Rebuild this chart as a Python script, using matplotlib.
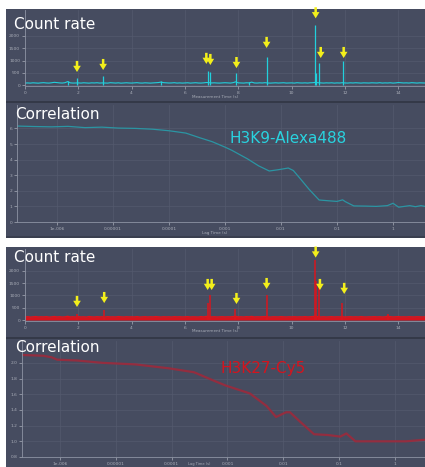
import numpy as np
import matplotlib.pyplot as plt
from matplotlib.patches import Rectangle
from matplotlib.ticker import NullLocator

# ---- data ----
time_s = np.arange(0, 15.01, 0.1)

# count rate trace, top (cyan) - baseline every 0.1 s
cyan_base = [80, 85, 78, 90, 82, 76, 88, 95, 84, 79,
             92, 110, 98, 86, 81, 95, 140, 88, 80, 84,
             86, 79, 91, 83, 77, 88, 84, 92, 80, 86,
             82, 78, 94, 85, 80, 89, 76, 84, 91, 83,
             80, 87, 95, 82, 79, 90, 84, 78, 86, 92,
             100, 120, 96, 88, 82, 85, 94, 80, 86, 79,
             84, 91, 78, 86, 93, 82, 80, 88, 102, 96,
             84, 90, 82, 79, 87, 93, 85, 80, 95, 130,
             88, 82, 79, 91, 86, 118, 84, 80, 89, 83,
             95, 82, 78, 86, 90, 81, 85, 92, 80, 84,
             87, 79, 93, 85, 82, 88, 80, 91, 95, 110,
             92, 85, 80, 88, 83, 90, 78, 86, 82, 94,
             84, 80, 89, 83, 92, 86, 79, 88, 84, 81,
             90, 85, 82, 94, 80, 87, 83, 91, 79, 86,
             100, 92, 84, 88, 81, 95, 86, 80, 89, 84,
             82]
cyan_spike_t = [1.6, 1.95, 2.93, 5.1, 6.85, 6.95, 7.9, 8.4, 9.07, 10.87, 10.93, 11.02, 11.92]
cyan_spike_v = [150, 290, 370, 170, 560, 540, 480, 130, 1150, 2450, 500, 880, 980]
cyan_arrow_t = [1.95, 2.93, 6.80, 6.95, 7.93, 9.06, 10.90, 11.09, 11.95]
cyan_arrow_v = [530, 610, 860, 815, 690, 1510, 2720, 1100, 1100]

# count rate trace, bottom (red)
red_base = [120, 135, 118, 128, 140, 122, 131, 126, 138, 119,
            127, 142, 124, 133, 120, 129, 150, 125, 132, 121,
            136, 124, 130, 118, 141, 127, 122, 134, 126, 131,
            119, 137, 125, 129, 122, 140, 128, 121, 133, 126,
            130, 124, 138, 120, 127, 135, 123, 131, 126, 139,
            128, 122, 134, 125, 130, 121, 137, 126, 132, 124,
            129, 136, 123, 131, 127, 120, 138, 125, 145, 140,
            126, 133, 121, 129, 135, 124, 130, 127, 138, 150,
            125, 131, 122, 136, 128, 145, 124, 130, 127, 133,
            140, 126, 121, 132, 128, 124, 137, 129, 122, 131,
            127, 135, 123, 130, 126, 138, 124, 131, 140, 155,
            130, 125, 133, 121, 128, 136, 124, 130, 127, 135,
            122, 129, 134, 126, 131, 124, 138, 127, 123, 130,
            128, 136, 125, 132, 121, 129, 150, 135, 124, 131,
            138, 126, 130, 123, 134, 127, 125, 132, 128, 124,
            130]
red_spike_t = [1.95, 2.95, 6.85, 6.92, 7.88, 9.07, 10.86, 10.92, 11.02, 11.9, 13.6]
red_spike_v = [230, 420, 700, 1000, 430, 1030, 2450, 1600, 1340, 690, 250]
red_arrow_t = [1.95, 2.97, 6.85, 7.00, 7.93, 9.06, 10.90, 11.06, 11.97]
red_arrow_v = [530, 690, 1220, 1220, 650, 1260, 2540, 1220, 1060]

# correlation curves (log10 lag time, G)
cyan_corr_logt = [-6.71, -6.4, -6.1, -5.8, -5.5, -5.2, -4.9, -4.6, -4.3, -4.0, -3.7, -3.45,
                  -3.23, -3.0, -2.88, -2.6, -2.4, -2.21, -2.05, -1.87, -1.78, -1.65, -1.5,
                  -1.32, -1.15, -1.0, -0.9, -0.85, -0.7, -0.5, -0.3, -0.1, 0.0, 0.1, 0.2,
                  0.3, 0.4, 0.5, 0.57]
cyan_corr_g = [6.15, 6.12, 6.10, 6.13, 6.05, 6.08, 6.02, 6.0, 5.95, 5.85, 5.7, 5.4,
               5.15, 4.8, 4.6, 4.05, 3.6, 3.27, 3.35, 3.46, 3.3, 2.75, 2.1,
               1.41, 1.36, 1.32, 1.42, 1.3, 1.03, 1.02, 1.0, 1.05, 1.2, 0.95, 1.0,
               1.05, 0.98, 1.05, 1.0]

red_corr_logt = [-6.68, -6.3, -6.15, -6.05, -5.7, -5.25, -4.65, -4.05, -3.6, -3.27, -3.03,
                 -2.6, -2.3, -2.13, -1.95, -1.88, -1.7, -1.45, -1.2, -0.98, -0.87, -0.71,
                 -0.3, 0.2, 0.54]
red_corr_g = [2.10, 2.09, 2.07, 2.04, 2.03, 2.0, 1.98, 1.93, 1.88, 1.78, 1.71,
              1.61, 1.45, 1.31, 1.37, 1.37, 1.25, 1.09, 1.08, 1.06, 1.1, 1.0,
              1.0, 1.0, 1.02]

log_ticks = [1e-6, 1e-5, 1e-4, 1e-3, 1e-2, 1e-1, 1]
log_labels = ['1e-006', '0.00001', '0.0001', '0.001', '0.01', '0.1', '1']

# ---- figure ----
W, H = 425, 467
BG = '#464c60'
fig = plt.figure(figsize=(4.25, 4.67), dpi=100)
fig.patch.set_facecolor('white')


def rect(x0, y0, x1, y1):
    return [x0 / W, 1 - y1 / H, (x1 - x0) / W, (y1 - y0) / H]


def panel(x0, y0, x1, y1, color=BG):
    fig.add_artist(Rectangle((x0 / W, 1 - y1 / H), (x1 - x0) / W, (y1 - y0) / H,
                             transform=fig.transFigure, color=color, zorder=-5, lw=0))


def style(ax):
    ax.set_facecolor('none')
    for s in ['top', 'right']:
        ax.spines[s].set_visible(False)
    for s in ['left', 'bottom']:
        ax.spines[s].set_color('#8d93a3')
        ax.spines[s].set_linewidth(0.6)
    ax.tick_params(colors='#a9adb8', labelsize=3.2, length=2, width=0.5, pad=1.5)
    ax.grid(True, color='#545a6e', lw=0.5)
    ax.set_axisbelow(True)


def title(x, y, s):
    fig.text(x / W, 1 - y / H, s, fontsize=11, color='white', va='baseline')


def arrows(ax, ts, vs):
    for t, v in zip(ts, vs):
        a = ax.annotate('', xy=(t, v), xytext=(0, 8), textcoords='offset points',
                        annotation_clip=False,
                        arrowprops=dict(arrowstyle='simple,head_length=0.45,head_width=0.55,tail_width=0.18',
                                        fc='#f3ef1b', ec='none', shrinkA=0, shrinkB=0))
        a.arrow_patch.set_clip_on(False)


# panel backgrounds
panel(6, 9, 425, 101)
panel(6, 101, 425, 103, '#343948')
panel(6, 103, 425, 238)
panel(6, 236, 425, 238, '#3a3f4f')
panel(6, 247, 425, 337)
panel(6, 337, 425, 339, '#343948')
panel(6, 339, 425, 467)

# count rate, top
ax1 = fig.add_axes(rect(25, 10, 425, 86))
style(ax1)
ax1.plot(time_s, cyan_base, color='#22d0dc', lw=0.8)
ax1.vlines(cyan_spike_t, 0, cyan_spike_v, color='#22d0dc', lw=0.9)
ax1.set_xlim(0, 15)
ax1.set_ylim(-40, 3060)
ax1.set_xticks(range(0, 15, 2))
ax1.set_yticks(range(0, 2001, 500))
arrows(ax1, cyan_arrow_t, cyan_arrow_v)
fig.text(215 / W, 1 - 97 / H, 'Measurement Time (s)', fontsize=3, color='#a9adb8', ha='center', va='center')

# correlation, top
ax2 = fig.add_axes(rect(17, 105, 425, 222))
style(ax2)
ax2.plot(10 ** np.array(cyan_corr_logt), cyan_corr_g, color='#2b95a3', lw=0.9)
ax2.set_xscale('log')
ax2.set_xlim(10 ** -6.714, 10 ** 0.571)
ax2.set_ylim(0, 7.5)
ax2.set_xticks(log_ticks)
ax2.set_xticklabels(log_labels)
ax2.xaxis.set_minor_locator(NullLocator())
ax2.set_yticks(range(0, 7))
fig.text(215 / W, 1 - 233 / H, 'Lag Time (s)', fontsize=3, color='#a9adb8', ha='center', va='center')

# count rate, bottom
ax3 = fig.add_axes(rect(25, 249, 425, 321))
style(ax3)
ax3.fill_between(time_s, 0, red_base, color='#d8121c', lw=0)
ax3.plot(time_s, red_base, color='#e0141c', lw=1.0)
ax3.vlines(red_spike_t, 0, red_spike_v, color='#d8161e', lw=1.1)
ax3.set_xlim(0, 15)
ax3.set_ylim(-40, 2890)
ax3.set_xticks(range(0, 15, 2))
ax3.set_yticks(range(0, 2001, 500))
arrows(ax3, red_arrow_t, red_arrow_v)
fig.text(215 / W, 1 - 331 / H, 'Measurement Time (s)', fontsize=3, color='#a9adb8', ha='center', va='center')

# correlation, bottom
ax4 = fig.add_axes(rect(22, 341, 425, 457))
style(ax4)
ax4.plot(10 ** np.array(red_corr_logt), red_corr_g, color='#9c2a3c', lw=1.6, alpha=0.9)
ax4.set_xscale('log')
ax4.set_xlim(10 ** -6.681, 10 ** 0.538)
ax4.set_ylim(0.8, 2.278)
ax4.set_xticks(log_ticks)
ax4.set_xticklabels(log_labels)
ax4.xaxis.set_minor_locator(NullLocator())
ax4.set_yticks(np.arange(0.8, 2.01, 0.2))
ax4.set_yticklabels(['0.8', '1.0', '1.2', '1.4', '1.6', '1.8', '2.0'])
fig.text(199 / W, 1 - 464.5 / H, 'Lag Time (s)', fontsize=2.6, color='#a9adb8', ha='center', va='center')

# titles and labels
title(14, 29, 'Count rate')
title(15, 119, 'Correlation')
title(14, 262, 'Count rate')
title(15, 352, 'Correlation')
fig.text(230 / W, 1 - 143 / H, 'H3K9-Alexa488', fontsize=11, color='#29d3df', va='baseline')
fig.text(220 / W, 1 - 373 / H, 'H3K27-Cy5', fontsize=11, color='#d4141e', va='baseline')

fig.savefig('out.png', dpi=100)
